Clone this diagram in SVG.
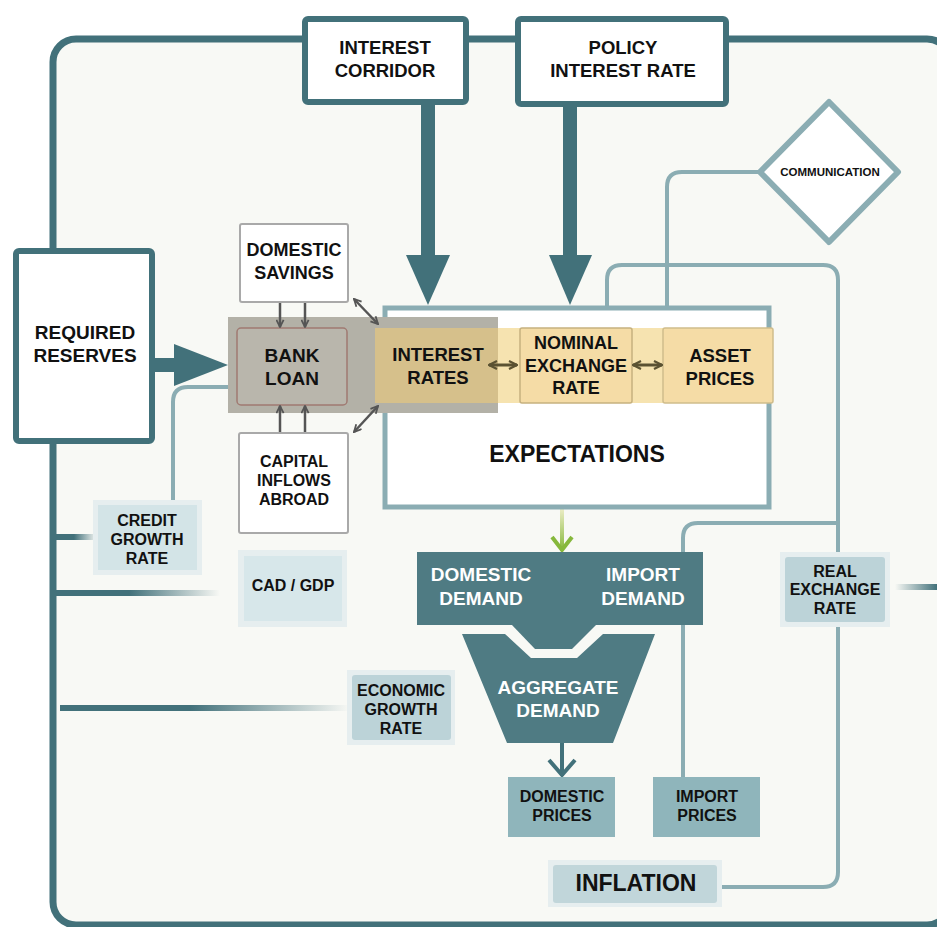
<svg xmlns="http://www.w3.org/2000/svg" width="937" height="927" viewBox="0 0 937 927">
<defs>
<style>
text{font-family:"Liberation Sans",Arial,sans-serif;font-weight:bold;fill:#111;text-anchor:middle;dominant-baseline:central}
.w{fill:#fff}
.teal{fill:#42717a}
.lt{fill:none;stroke:#8badb3;stroke-width:4}
.thick{fill:#fff;stroke:#42717a;stroke-width:6}
.wbox{fill:#fff;stroke:#a9a9a9;stroke-width:2}
.halo{fill:#e6eeef}
.gr{stroke:#555;stroke-width:2.5;fill:none}
.ol{stroke:#5b5232;stroke-width:3;fill:none}
</style>
<marker id="ch" viewBox="0 0 10 10" refX="9" refY="5" markerWidth="9" markerHeight="9" orient="auto-start-reverse" markerUnits="userSpaceOnUse"><path d="M1,1 L9,5 L1,9" fill="none" stroke="#555" stroke-width="2"/></marker>
<marker id="och" viewBox="0 0 10 10" refX="9" refY="5" markerWidth="10" markerHeight="10" orient="auto-start-reverse" markerUnits="userSpaceOnUse"><path d="M1,1 L9,5 L1,9" fill="none" stroke="#5b5232" stroke-width="2.2"/></marker>
<linearGradient id="fadeR" x1="0" y1="0" x2="1" y2="0"><stop offset="0" stop-color="#42717a"/><stop offset="0.45" stop-color="#42717a"/><stop offset="1" stop-color="#42717a" stop-opacity="0"/></linearGradient>
<linearGradient id="fadeL" x1="0" y1="0" x2="1" y2="0"><stop offset="0" stop-color="#42717a" stop-opacity="0"/><stop offset="1" stop-color="#42717a"/></linearGradient>
<linearGradient id="green" gradientUnits="userSpaceOnUse" x1="0" y1="508" x2="0" y2="550"><stop offset="0" stop-color="#eeeec8"/><stop offset="1" stop-color="#86b83c"/></linearGradient>
</defs>
<rect width="937" height="927" fill="#fff"/>
<rect id="frame" x="53" y="39" width="897" height="886" rx="23" fill="#f8f9f5" stroke="#42717a" stroke-width="7"/>

<g id="connectors">
<rect x="55" y="534" width="42" height="6" fill="url(#fadeR)"/>
<rect x="55" y="590" width="165" height="6" fill="url(#fadeR)"/>
<rect x="60" y="705" width="290" height="6" fill="url(#fadeR)"/>
<rect x="895" y="584" width="42" height="6" fill="url(#fadeL)"/>
<path class="lt" d="M758,172 H682 Q667,172 667,187 V308"/>
<path class="lt" d="M607,310 V280 Q607,265 622,265 H823 Q838,265 838,280 V872 Q838,887 823,887 H720"/>
<path class="lt" d="M838,523 H698 Q683,523 683,538 V778"/>
<path class="lt" d="M173,502 V402 Q173,387 188,387 H238"/>
<rect class="teal" x="421" y="100" width="14" height="158"/>
<polygon class="teal" points="406,255 450,255 428,305"/>
<rect class="teal" x="563" y="100" width="14" height="158"/>
<polygon class="teal" points="549,255 592,255 570,305"/>
<rect class="teal" x="150" y="358" width="28" height="14"/>
<polygon class="teal" points="174,344 228,365 174,386"/>
<path d="M562,508 V548" stroke="url(#green)" stroke-width="4" fill="none"/>
<path d="M552,537 L562,550 L572,537" fill="none" stroke="#86b83c" stroke-width="4"/>
<path d="M562,742 V776" stroke="#42717a" stroke-width="4"/>
<path d="M549,760 L562,775 L575,760" fill="none" stroke="#42717a" stroke-width="4"/>
</g>

<g id="expectations">
<rect x="385" y="308" width="384" height="199" fill="#fff" stroke="#8badb3" stroke-width="5"/>
<text x="577" y="454" style="font-size:23px">EXPECTATIONS</text>
</g>

<g id="bank-band">
<rect x="228" y="317" width="270" height="96" fill="#b3b1a7"/>
<rect x="375" y="328" width="398" height="75" fill="#f6e3b0"/>
</g>

<g id="bank-loan">
<rect x="237" y="328" width="110" height="77" rx="4" fill="#b9b6ac" stroke="#a07a72" stroke-width="1.5"/>
<text x="292" y="355" style="font-size:19px">BANK</text>
<text x="292" y="378" style="font-size:19px">LOAN</text>
</g>

<g id="interest-rates">
<rect x="375" y="328" width="123" height="75" fill="#d6c08b"/>
<text x="438" y="354" style="font-size:18.5px">INTEREST</text>
<text x="438" y="377" style="font-size:18.5px">RATES</text>
</g>

<g id="nominal-exchange-rate">
<rect x="520" y="328" width="112" height="75" rx="2" fill="#f5dca6" stroke="#c6b17f" stroke-width="1.5"/>
<text x="576" y="343" style="font-size:18px">NOMINAL</text>
<text x="576" y="366" style="font-size:18px">EXCHANGE</text>
<text x="576" y="388" style="font-size:18px">RATE</text>
</g>

<g id="asset-prices">
<rect x="663" y="328" width="110" height="75" rx="2" fill="#f5dca6" stroke="#d0bd8c" stroke-width="1.5"/>
<text x="720" y="355" style="font-size:18.5px">ASSET</text>
<text x="720" y="378" style="font-size:18.5px">PRICES</text>
</g>

<g id="strip-arrows">
<path class="ol" d="M489,365 H517" marker-start="url(#och)" marker-end="url(#och)"/>
<path class="ol" d="M633,365 H662" marker-start="url(#och)" marker-end="url(#och)"/>
<path class="gr" d="M280,303 V327" marker-end="url(#ch)"/>
<path class="gr" d="M305,303 V327" marker-end="url(#ch)"/>
<path class="gr" d="M280,432 V406" marker-end="url(#ch)"/>
<path class="gr" d="M305,432 V406" marker-end="url(#ch)"/>
<path class="gr" d="M354,299 L378,324" marker-start="url(#ch)" marker-end="url(#ch)"/>
<path class="gr" d="M354,432 L378,406" marker-start="url(#ch)" marker-end="url(#ch)"/>
</g>

<g id="interest-corridor">
<rect class="thick" x="305" y="19" width="161" height="83" rx="3"/>
<text x="385" y="47" style="font-size:18.5px">INTEREST</text>
<text x="385" y="70" style="font-size:18.5px">CORRIDOR</text>
</g>

<g id="policy-interest-rate">
<rect class="thick" x="518" y="19" width="208" height="85" rx="3"/>
<text x="623" y="47" style="font-size:18.5px">POLICY</text>
<text x="623" y="70" style="font-size:18.5px">INTEREST RATE</text>
</g>

<g id="communication">
<polygon points="829,102 898,172 829,242 760,172" fill="#fff" stroke="#8badb3" stroke-width="6" stroke-linejoin="round"/>
<text x="830" y="172" style="font-size:11.5px">COMMUNICATION</text>
</g>

<g id="required-reserves">
<rect class="thick" x="16" y="251" width="136" height="190" rx="3"/>
<text x="85" y="332" style="font-size:19px">REQUIRED</text>
<text x="85" y="355" style="font-size:19px">RESERVES</text>
</g>

<g id="domestic-savings">
<rect class="wbox" x="240" y="224" width="108" height="78" rx="2"/>
<text x="294" y="250" style="font-size:18px">DOMESTIC</text>
<text x="294" y="273" style="font-size:18px">SAVINGS</text>
</g>

<g id="capital-inflows">
<rect class="wbox" x="239" y="433" width="109" height="100" rx="2"/>
<text x="294" y="461" style="font-size:16px">CAPITAL</text>
<text x="294" y="480" style="font-size:16px">INFLOWS</text>
<text x="294" y="499" style="font-size:16px">ABROAD</text>
</g>

<g id="credit-growth-rate">
<rect class="halo" x="93" y="500" width="109" height="75"/>
<rect x="98" y="505" width="99" height="65" fill="#d3e4e7"/>
<text x="147" y="520" style="font-size:16px">CREDIT</text>
<text x="147" y="539" style="font-size:16px">GROWTH</text>
<text x="147" y="558" style="font-size:16px">RATE</text>
</g>

<g id="cad-gdp">
<rect class="halo" x="238" y="550" width="109" height="77"/>
<rect x="244" y="556" width="98" height="65" fill="#d7e7ea"/>
<text x="293" y="585" style="font-size:16px">CAD / GDP</text>
</g>

<g id="economic-growth-rate">
<rect class="halo" x="347" y="670" width="108" height="75"/>
<rect x="352" y="675" width="99" height="65" rx="3" fill="#bcd3d8"/>
<text x="401" y="690" style="font-size:16px">ECONOMIC</text>
<text x="401" y="709" style="font-size:16px">GROWTH</text>
<text x="401" y="728" style="font-size:16px">RATE</text>
</g>

<g id="demand">
<rect x="417" y="552" width="286" height="73" fill="#4f7b83"/>
<polygon points="511,624 597,624 572,649 535,649" fill="#4f7b83"/>
<text class="w" x="481" y="574" style="font-size:19px">DOMESTIC</text>
<text class="w" x="481" y="598" style="font-size:19px">DEMAND</text>
<text class="w" x="643" y="574" style="font-size:19px">IMPORT</text>
<text class="w" x="643" y="598" style="font-size:19px">DEMAND</text>
</g>

<g id="aggregate-demand">
<polygon points="462,634 505,634 531,658 577,658 603,634 655,634 613,743 507,743" fill="#4f7b83"/>
<text class="w" x="558" y="687" style="font-size:19px">AGGREGATE</text>
<text class="w" x="558" y="710" style="font-size:19px">DEMAND</text>
</g>

<g id="domestic-prices">
<rect x="508" y="777" width="107" height="60" fill="#8fb5bb"/>
<text x="562" y="796" style="font-size:16px">DOMESTIC</text>
<text x="562" y="815" style="font-size:16px">PRICES</text>
</g>

<g id="import-prices">
<rect x="653" y="777" width="107" height="60" fill="#8fb5bb"/>
<text x="707" y="796" style="font-size:16px">IMPORT</text>
<text x="707" y="815" style="font-size:16px">PRICES</text>
</g>

<g id="real-exchange-rate">
<rect class="halo" x="780" y="552" width="110" height="75"/>
<rect x="785" y="557" width="100" height="65" rx="3" fill="#bcd3d8"/>
<text x="835" y="571" style="font-size:16px">REAL</text>
<text x="835" y="589" style="font-size:16px">EXCHANGE</text>
<text x="835" y="608" style="font-size:16px">RATE</text>
</g>

<g id="inflation">
<rect class="halo" x="548" y="860" width="174" height="47"/>
<rect x="553" y="865" width="164" height="38" rx="3" fill="#c1d6da"/>
<text x="636" y="883" style="font-size:23px">INFLATION</text>
</g>
</svg>
